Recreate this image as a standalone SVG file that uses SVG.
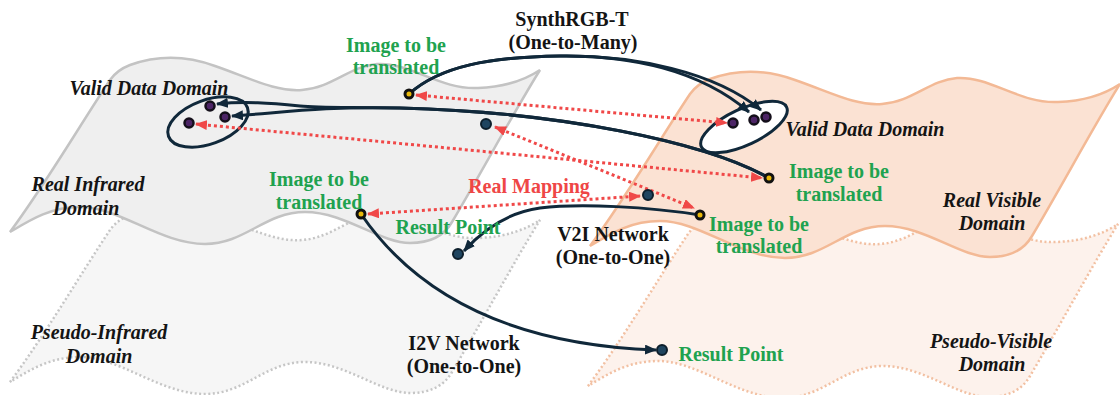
<svg xmlns="http://www.w3.org/2000/svg" width="1120" height="395" viewBox="0 0 1120 395">
  <style>
    .lbl { font-family: "Liberation Serif", "Times New Roman", serif; font-weight: bold; font-size: 20px; text-anchor: middle; }
    .dom { font-style: italic; fill: #141414; }
    .net { fill: #141414; }
    .grn { fill: #20a24f; }
    .red { fill: #ef4646; }
    .flag-ir { fill: #efefef; stroke: #c3c3c3; stroke-width: 2.5; }
    .flag-pir { fill: #f6f6f6; stroke: #c6c6c6; stroke-width: 2.5; stroke-dasharray: 2 2.5; }
    .flag-vis { fill: #fbe2d3; stroke: #f3b995; stroke-width: 2.5; }
    .flag-pvis { fill: #fdf2ec; stroke: #f2c0a2; stroke-width: 2.5; stroke-dasharray: 2 2.5; }
    .vdd { stroke: #10283a; stroke-width: 3; }
    .net-arrow { fill: none; stroke: #10283a; stroke-width: 3; marker-end: url(#ah-dark); }
    .map { fill: none; stroke: #f04848; stroke-width: 3; stroke-dasharray: 3 3; marker-start: url(#ah-red); marker-end: url(#ah-red); }
    .pt-src { fill: #e9b90c; stroke: #111; stroke-width: 3; }
    .pt-res { fill: #1f4560; stroke: #0d1f2c; stroke-width: 2; }
    .pt-vdd { fill: #4c2466; stroke: #140f1a; stroke-width: 2.5; }
  </style>
  <defs>
    <!-- wavy domain sheet, drawn at the infrared position -->
    <path id="sheet" d="M10,232 C45,185 80,125 110,80 Q117,70 130,65 C155,56 185,55 215,66 C250,78 275,92 302,90 C332,88 350,66 377,64 C410,62 440,90 478,88 C505,87 525,80 540,70 C515,110 480,175 452,222 Q440,243 410,243 C380,243 345,212 305,212 C265,212 245,244 205,244 C160,244 120,207 80,207 C50,207 30,220 10,232 Z"/>
    <marker id="ah-dark" viewBox="0 0 12 10" refX="11" refY="5" markerWidth="12" markerHeight="10" markerUnits="userSpaceOnUse" orient="auto">
      <path d="M0,0 L12,5 L0,10 Z" fill="#10283a"/>
    </marker>
    <marker id="ah-red" viewBox="0 0 12 10" refX="11" refY="5" markerWidth="12" markerHeight="10" markerUnits="userSpaceOnUse" orient="auto-start-reverse">
      <path d="M0,0 L12,5 L0,10 Z" fill="#f04848"/>
    </marker>
  </defs>

  <!-- domain sheets -->
  <g id="pseudo-infrared-domain">
    <use href="#sheet" class="flag-pir" transform="translate(0,150)"/>
  </g>
  <g id="pseudo-visible-domain">
    <use href="#sheet" class="flag-pvis" transform="translate(578,154)"/>
  </g>
  <g id="real-infrared-domain">
    <use href="#sheet" class="flag-ir"/>
  </g>
  <g id="real-visible-domain">
    <use href="#sheet" class="flag-vis" transform="translate(580,14)"/>
  </g>

  <!-- valid data domains -->
  <g id="valid-data-infrared">
    <ellipse cx="208" cy="122" rx="42" ry="22" transform="rotate(-20 208 122)" fill="none" class="vdd"/>
  </g>
  <g id="valid-data-visible">
    <ellipse cx="744" cy="127" rx="47" ry="18" transform="rotate(-25 744 127)" fill="#ffffff" class="vdd"/>
  </g>

  <!-- connectors -->
  <g id="connectors">
    <!-- real mappings (bidirectional) -->
    <path class="map" d="M416,95 L727,123"/>
    <path class="map" d="M196,124 L762,178"/>
    <path class="map" d="M495,127 L694,208"/>
    <path class="map" d="M368,214 L640,196"/>
    <!-- SynthRGB-T: one-to-many -->
    <path class="net-arrow" d="M409,94 C440,66 490,57 560,56 C630,55 700,70 749,112"/>
    <path class="net-arrow" d="M409,94 C440,66 490,57 560,56 C635,55 715,72 761,110"/>
    <path class="net-arrow" d="M769,178 C705,142 560,112 400,108 C320,106 280,113 232,116"/>
    <path class="net-arrow" d="M769,178 C705,142 560,112 400,108 C350,107 320,108 300,106 C270,103 245,101 217,104"/>
    <!-- V2I network -->
    <path class="net-arrow" d="M700,215 C650,207 580,203 540,208 C505,213 480,233 464,251"/>
    <!-- I2V network -->
    <path class="net-arrow" d="M361,214 C420,300 520,345 656,350"/>
  </g>

  <!-- points -->
  <g id="points">
    <circle class="pt-vdd" cx="210" cy="106" r="4.5"/>
    <circle class="pt-vdd" cx="225" cy="117" r="4.5"/>
    <circle class="pt-vdd" cx="189" cy="123" r="4.5"/>
    <circle class="pt-vdd" cx="733" cy="123" r="4.5"/>
    <circle class="pt-vdd" cx="754" cy="120" r="4.5"/>
    <circle class="pt-vdd" cx="766" cy="117" r="4.5"/>
    <circle class="pt-src" cx="409" cy="94" r="4"/>
    <circle class="pt-src" cx="361" cy="214" r="4"/>
    <circle class="pt-src" cx="769" cy="178" r="4"/>
    <circle class="pt-src" cx="700" cy="215" r="4"/>
    <circle class="pt-res" cx="486" cy="124" r="5"/>
    <circle class="pt-res" cx="648" cy="195" r="5"/>
    <circle class="pt-res" cx="458" cy="254" r="5"/>
    <circle class="pt-res" cx="662" cy="350" r="5"/>
  </g>

  <!-- labels -->
  <g id="labels" class="lbl">
    <text class="net" x="572" y="26">SynthRGB-T</text>
    <text class="net" x="573" y="49">(One-to-Many)</text>
    <text class="net" x="613" y="241">V2I Network</text>
    <text class="net" x="613" y="264">(One-to-One)</text>
    <text class="net" x="464" y="350">I2V Network</text>
    <text class="net" x="464" y="373">(One-to-One)</text>

    <text class="red" x="529" y="193">Real Mapping</text>

    <text class="grn" x="396" y="52">Image to be</text>
    <text class="grn" x="396" y="74">translated</text>
    <text class="grn" x="319" y="186">Image to be</text>
    <text class="grn" x="319" y="209">translated</text>
    <text class="grn" x="839" y="178">Image to be</text>
    <text class="grn" x="839" y="201">translated</text>
    <text class="grn" x="759" y="231">Image to be</text>
    <text class="grn" x="759" y="253">translated</text>
    <text class="grn" x="448" y="234">Result Point</text>
    <text class="grn" x="731" y="361">Result Point</text>

    <text class="dom" x="149" y="95">Valid Data Domain</text>
    <text class="dom" x="865" y="136">Valid Data Domain</text>
    <text class="dom" x="88" y="191">Real Infrared</text>
    <text class="dom" x="86" y="215">Domain</text>
    <text class="dom" x="992" y="207">Real Visible</text>
    <text class="dom" x="992" y="230">Domain</text>
    <text class="dom" x="99" y="339">Pseudo-Infrared</text>
    <text class="dom" x="99" y="363">Domain</text>
    <text class="dom" x="991" y="348">Pseudo-Visible</text>
    <text class="dom" x="992" y="371">Domain</text>
  </g>
</svg>
